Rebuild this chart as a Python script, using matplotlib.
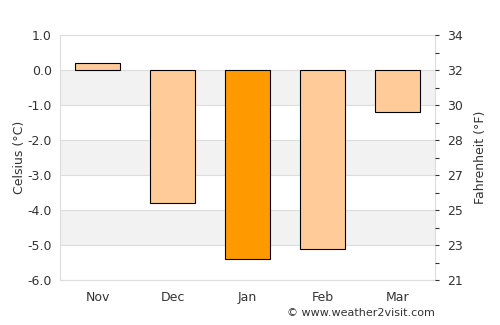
import matplotlib
matplotlib.use("Agg")
import matplotlib.pyplot as plt
import numpy as np

months = ["Nov", "Dec", "Jan", "Feb", "Mar"]
temps_c = [0.2, -3.8, -5.4, -5.1, -1.2]
bar_colors = ["#ffcc99", "#ffcc99", "#ff9900", "#ffcc99", "#ffcc99"]
c_ticks = [1, 0, -1, -2, -3, -4, -5, -6]

fig = plt.figure(figsize=(5, 3.25), dpi=100)
ax = fig.add_axes([0.12, 0.138, 0.75, 0.754])

# alternating bands
for lo in [-1, -3, -5]:
    ax.axhspan(lo, lo + 1, color="#f2f2f2", zorder=0, lw=0)
for c in c_ticks:
    ax.axhline(c, color="#dddddd", lw=0.8, zorder=1)

x = np.arange(len(months))
ax.bar(x, temps_c, width=0.6, color=bar_colors, edgecolor="black", linewidth=0.8, zorder=3)

ax.set_xlim(-0.5, 4.5)
ax.set_ylim(-6, 1)
ax.set_xticks(x)
ax.set_xticklabels(months)
ax.set_yticks(c_ticks)
ax.set_yticklabels([f"{c:.1f}" for c in c_ticks])
ax.tick_params(axis="both", length=0, colors="#333333", labelsize=9, pad=6)
ax.tick_params(axis="x", pad=8)
ax.set_ylabel("Celsius (°C)", fontsize=9, color="#333333", labelpad=1)
for s in ax.spines.values():
    s.set_color("#dddddd")
    s.set_linewidth(0.8)

# Fahrenheit axis on the right, same scale
ax2 = ax.twinx()
ax2.set_ylim(-6, 1)
ax2.set_yticks(c_ticks)
ax2.set_yticklabels([f"{round(c * 1.8 + 32)}" for c in c_ticks])
ax2.set_yticks(np.arange(-6, 1.01, 0.5), minor=True)
ax2.tick_params(axis="y", which="major", length=3, width=0.8, colors="#333333", labelsize=9, pad=6)
ax2.tick_params(axis="y", which="minor", length=3, width=0.8, color="#333333")
ax2.set_ylabel("Fahrenheit (°F)", fontsize=9, color="#333333", labelpad=8)
for s in ax2.spines.values():
    s.set_visible(False)

fig.text(0.87, 0.02, "© www.weather2visit.com", ha="right", va="bottom", fontsize=8, color="#333333")

fig.savefig("out.png", dpi=100)
